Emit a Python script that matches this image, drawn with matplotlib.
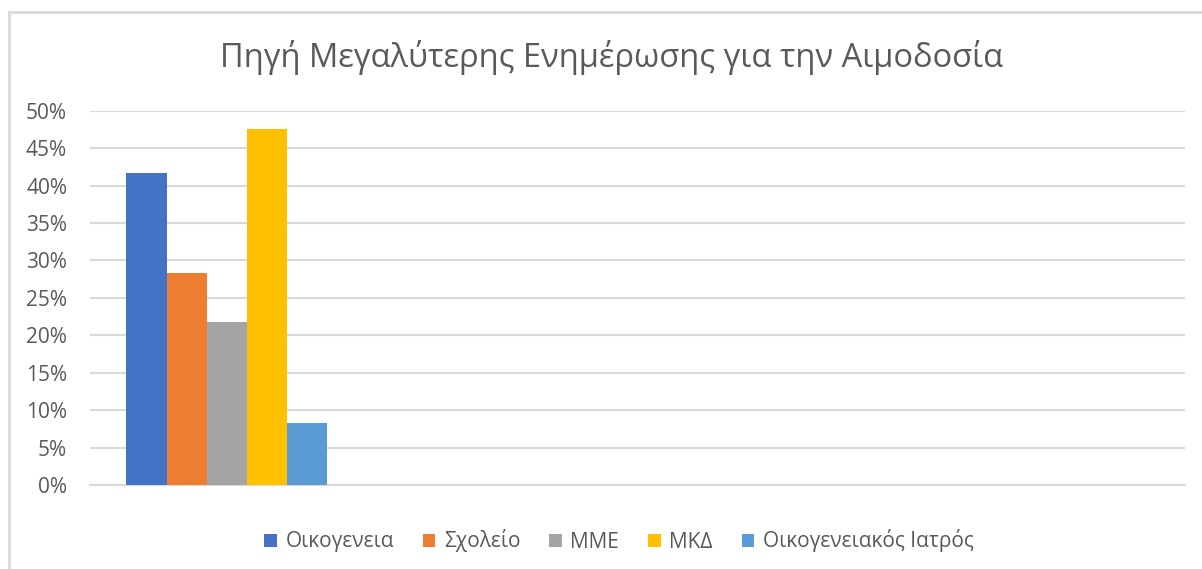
import numpy as np
import matplotlib
matplotlib.use("Agg")
import matplotlib.pyplot as plt
from matplotlib.lines import Line2D
from matplotlib.patches import Patch
from matplotlib.ticker import PercentFormatter

# ---- data ----
title = "Πηγή Μεγαλύτερης Ενημέρωσης για την Αιμοδοσία"
categories = ["", "", "", ""]
series_names = ["Οικογενεια", "Σχολείο", "ΜΜΕ", "ΜΚΔ", "Οικογενειακός Ιατρός"]
oikogeneia = [0.417, np.nan, np.nan, np.nan]
sxoleio = [0.283, np.nan, np.nan, np.nan]
mme = [0.218, np.nan, np.nan, np.nan]
mkd = [0.476, np.nan, np.nan, np.nan]
iatros = [0.083, np.nan, np.nan, np.nan]
yticks = [0, 0.05, 0.10, 0.15, 0.20, 0.25, 0.30, 0.35, 0.40, 0.45, 0.50]

series_values = [oikogeneia, sxoleio, mme, mkd, iatros]
colors = ["#4472C4", "#ED7D31", "#A5A5A5", "#FFC000", "#5B9BD5"]
text_color = "#595959"
grid_color = "#D9D9D9"

plt.rcParams["font.family"] = ["Open Sans", "DejaVu Sans"]

W, H = 1202, 569
fig = plt.figure(figsize=(W / 100, H / 100), dpi=100)
ax = fig.add_axes([90 / W, (H - 485) / H, (1185 - 90) / W, (485 - 110.7) / H])

x = np.arange(len(categories))
bw = 0.147
n = len(series_values)
for i, (vals, c, name) in enumerate(zip(series_values, colors, series_names)):
    offs = (i - (n - 1) / 2) * bw
    ax.bar(x + offs, vals, width=bw, color=c, label=name, zorder=3)

ax.set_xlim(-0.5, len(categories) - 0.5)
ax.set_ylim(0, 0.5)
ax.set_yticks(yticks)
ax.yaxis.set_major_formatter(PercentFormatter(1.0, decimals=0))
ax.set_xticks([])
ax.grid(axis="y", color=grid_color, linewidth=1.5, zorder=0)
for s in ["top", "right", "left"]:
    ax.spines[s].set_visible(False)
ax.spines["bottom"].set_color(grid_color)
ax.spines["bottom"].set_linewidth(1.5)
ax.tick_params(axis="y", length=0, pad=16.5, labelsize=15, labelcolor=text_color)

fig.text(612 / W, 1 - 57 / H, title, ha="center", va="center",
         fontsize=23.5, color=text_color)

handles = [Patch(facecolor=c, edgecolor="none") for c in colors]
fig.legend(handles, series_names, loc="center", bbox_to_anchor=(619 / W, 1 - 541 / H),
           ncol=5, frameon=False, fontsize=15, labelcolor=text_color,
           handlelength=0.6, handleheight=0.6, handletextpad=0.4, columnspacing=1.4)

# chart border (top and left visible)
fig.add_artist(Line2D([9 / W, 9 / W], [0, 1 - 12 / H], transform=fig.transFigure,
                      color=grid_color, linewidth=2))
fig.add_artist(Line2D([9 / W, 1], [1 - 12 / H, 1 - 12 / H], transform=fig.transFigure,
                      color=grid_color, linewidth=2))

fig.savefig("out.png", dpi=100)
